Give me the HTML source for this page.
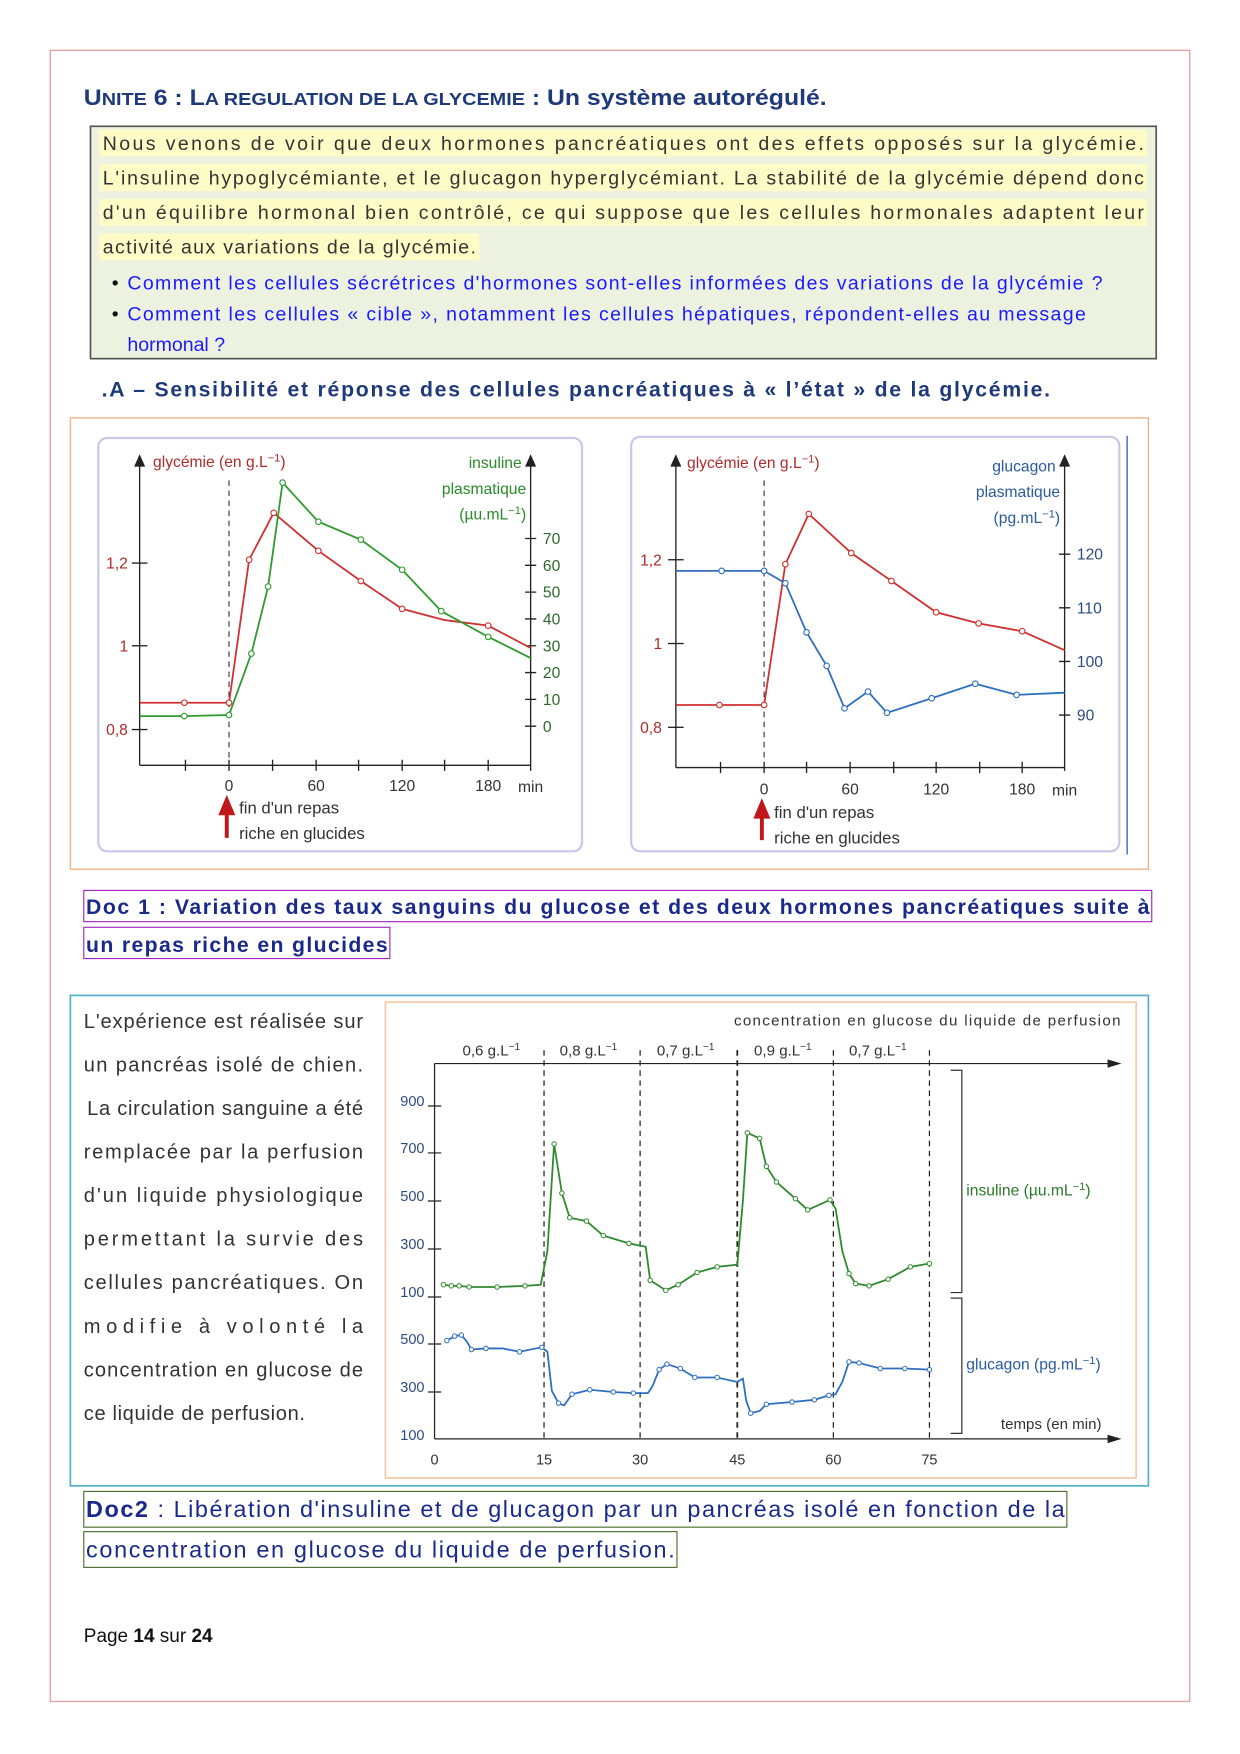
<!DOCTYPE html>
<html><head><meta charset="utf-8"><style>
html,body{margin:0;padding:0;background:#fff;}
svg{display:block;}
text{font-family:"Liberation Sans",sans-serif;}
</style></head><body>
<svg width="1240" height="1754" viewBox="0 0 1110 1570" xmlns="http://www.w3.org/2000/svg">
<rect x="45" y="45" width="1020" height="1478" fill="none" stroke="#e8a0a0" stroke-width="1.2"/>
<text x="75" y="94" font-weight="bold" fill="#1f3a7a" textLength="665" lengthAdjust="spacingAndGlyphs"><tspan font-size="20">U</tspan><tspan font-size="16">NITE</tspan><tspan font-size="20"> 6 : L</tspan><tspan font-size="16">A REGULATION DE LA GLYCEMIE</tspan><tspan font-size="20"> : Un système autorégulé.</tspan></text>
<rect x="81" y="113" width="954" height="208" fill="#edf2e0" stroke="#555" stroke-width="1.5"/>
<rect x="89" y="116" width="938" height="24" fill="#fefcc6"/>
<rect x="89" y="147" width="938" height="24" fill="#fefcc6"/>
<rect x="89" y="178" width="938" height="24" fill="#fefcc6"/>
<rect x="89" y="209" width="340" height="24" fill="#fefcc6"/>
<g font-size="17.5" fill="#333">
<text x="92" y="134" textLength="932" lengthAdjust="spacing">Nous venons de voir que deux hormones pancréatiques ont des effets opposés sur la glycémie.</text>
<text x="92" y="165" textLength="932" lengthAdjust="spacing">L'insuline hypoglycémiante, et le glucagon hyperglycémiant. La stabilité de la glycémie dépend donc</text>
<text x="92" y="196" textLength="932" lengthAdjust="spacing">d'un équilibre hormonal bien contrôlé, ce qui suppose que les cellules hormonales adaptent leur</text>
<text x="92" y="227" textLength="334" lengthAdjust="spacing">activité aux variations de la glycémie.</text>
</g>
<g font-size="17.5" fill="#1a1aff">
<text x="100" y="259" fill="#111">•</text><text x="114" y="259" textLength="873" lengthAdjust="spacing">Comment les cellules sécrétrices d'hormones sont-elles informées des variations de la glycémie ?</text>
<text x="100" y="287" fill="#111">•</text><text x="114" y="287" textLength="858" lengthAdjust="spacing">Comment les cellules « cible », notamment les cellules hépatiques, répondent-elles au message</text>
<text x="114" y="314">hormonal ?</text>
</g>
<text x="91" y="355" font-size="19" font-weight="bold" fill="#1f3a7a" textLength="849" lengthAdjust="spacing">.A – Sensibilité et réponse des cellules pancréatiques à « l’état » de la glycémie.</text>

<rect x="63" y="374" width="965" height="404" fill="none" stroke="#f0b080" stroke-width="1.2"/>
<rect x="88" y="392" width="433" height="370" rx="8" fill="#fff" stroke="#c8c8e8" stroke-width="2"/>
<rect x="565" y="391" width="437" height="371" rx="8" fill="#fff" stroke="#c8c8e8" stroke-width="2"/>
<line x1="1009" y1="390" x2="1009" y2="765" stroke="#5a7fd0" stroke-width="1.5"/>

<g stroke="#222" stroke-width="1.2" fill="none">
<line x1="125" y1="408" x2="125" y2="685"/><line x1="125" y1="685" x2="475" y2="685"/>
<line x1="475" y1="408" x2="475" y2="690"/>
<path d="M121,417 L125,408 L129,417Z M471,417 L475,408 L479,417Z" fill="#222"/>
<line x1="118" y1="504" x2="132" y2="504"/><line x1="118" y1="578" x2="132" y2="578"/><line x1="118" y1="653" x2="132" y2="653"/>
<path d="M166,680v10M205,680v10M244,680v10M283,680v10M321,680v10M360,680v10M398,680v10M437,680v10"/>
<path d="M470,482h10M470,506h10M470,530h10M470,554h10M470,578h10M470,602h10M470,626h10M470,650h10"/>
</g>
<line x1="205" y1="430" x2="205" y2="685" stroke="#333" stroke-dasharray="5,4"/>
<g font-size="14" fill="#b02a2a"><text x="95" y="509">1,2</text><text x="107" y="583">1</text><text x="95" y="658">0,8</text>
<text x="137" y="418">glycémie (en g.L<tspan font-size="10" dy="-5">−1</tspan><tspan dy="5">)</tspan></text></g>
<g font-size="14" fill="#2a8a2a" text-anchor="end"><text x="467" y="419">insuline</text><text x="471" y="442">plasmatique</text><text x="471" y="465">(µu.mL<tspan font-size="10" dy="-5">−1</tspan><tspan dy="5">)</tspan></text></g>
<g font-size="14" fill="#2a6a2a"><text x="486" y="487">70</text><text x="486" y="511">60</text><text x="486" y="535">50</text><text x="486" y="559">40</text><text x="486" y="583">30</text><text x="486" y="607">20</text><text x="486" y="631">10</text><text x="486" y="655">0</text></g>
<g font-size="14" fill="#333" text-anchor="middle"><text x="205" y="708">0</text><text x="283" y="708">60</text><text x="360" y="708">120</text><text x="437" y="708">180</text><text x="475" y="709">min</text></g>
<path d="M203,750 L203,726 M198,728 L203,716 L208,728Z" stroke="#c01818" stroke-width="3.5" fill="#c01818"/>
<g font-size="15" fill="#333"><text x="214" y="728">fin d'un repas</text><text x="214" y="751">riche en glucides</text></g>
<g fill="none" stroke-width="1.6">
<polyline stroke="#d03030" points="125,629 165,629 205,629 223,501 245,459 285,493 323,520 360,545 398,555 437,560 475,580"/>
<polyline stroke="#2f9a2f" points="125,641 165,641 205,640 225,585 240,525 253,432 285,467 323,483 360,510 395,547 437,570 475,589"/>
</g>
<g stroke-width="1" fill="#fff">
<g stroke="#d03030"><circle cx="165" cy="629" r="2.5"/><circle cx="205" cy="629" r="2.5"/><circle cx="223" cy="501" r="2.5"/><circle cx="245" cy="459" r="2.5"/><circle cx="285" cy="493" r="2.5"/><circle cx="323" cy="520" r="2.5"/><circle cx="360" cy="545" r="2.5"/><circle cx="437" cy="560" r="2.5"/></g>
<g stroke="#2f9a2f"><circle cx="165" cy="641" r="2.5"/><circle cx="205" cy="640" r="2.5"/><circle cx="225" cy="585" r="2.5"/><circle cx="240" cy="525" r="2.5"/><circle cx="253" cy="432" r="2.5"/><circle cx="285" cy="467" r="2.5"/><circle cx="323" cy="483" r="2.5"/><circle cx="360" cy="510" r="2.5"/><circle cx="395" cy="547" r="2.5"/><circle cx="437" cy="570" r="2.5"/></g>
</g>

<g stroke="#222" stroke-width="1.2" fill="none">
<line x1="605" y1="408" x2="605" y2="687"/><line x1="605" y1="687" x2="953" y2="687"/>
<line x1="953" y1="408" x2="953" y2="690"/>
<path d="M601,417 L605,408 L609,417Z M949,417 L953,408 L957,417Z" fill="#222"/>
<line x1="598" y1="501" x2="612" y2="501"/><line x1="598" y1="576" x2="612" y2="576"/><line x1="598" y1="651" x2="612" y2="651"/>
<path d="M645,682v10M684,682v10M722,682v10M761,682v10M800,682v10M838,682v10M877,682v10M915,682v10"/>
<path d="M948,496h10M948,544h10M948,592h10M948,640h10"/>
</g>
<line x1="684" y1="430" x2="684" y2="687" stroke="#333" stroke-dasharray="5,4"/>
<g font-size="14" fill="#b02a2a"><text x="573" y="506">1,2</text><text x="585" y="581">1</text><text x="573" y="656">0,8</text>
<text x="615" y="419">glycémie (en g.L<tspan font-size="10" dy="-5">−1</tspan><tspan dy="5">)</tspan></text></g>
<g font-size="14" fill="#2a5aa0" text-anchor="end"><text x="945" y="422">glucagon</text><text x="949" y="445">plasmatique</text><text x="949" y="468">(pg.mL<tspan font-size="10" dy="-5">−1</tspan><tspan dy="5">)</tspan></text></g>
<g font-size="14" fill="#2a4a80"><text x="964" y="501">120</text><text x="964" y="549">110</text><text x="964" y="597">100</text><text x="964" y="645">90</text></g>
<g font-size="14" fill="#333" text-anchor="middle"><text x="684" y="711">0</text><text x="761" y="711">60</text><text x="838" y="711">120</text><text x="915" y="711">180</text><text x="953" y="712">min</text></g>
<path d="M682,752 L682,729 M677,731 L682,719 L687,731Z" stroke="#c01818" stroke-width="3.5" fill="#c01818"/>
<g font-size="15" fill="#333"><text x="693" y="732">fin d'un repas</text><text x="693" y="755">riche en glucides</text></g>
<g fill="none" stroke-width="1.6">
<polyline stroke="#d03030" points="605,631 644,631 684,631 703,505 724,460 762,495 798,520 838,548 876,558 915,565 953,582"/>
<polyline stroke="#2f6fc0" points="605,511 646,511 684,511 703,522 722,566 740,596 756,634 777,619 794,638 834,625 873,612 910,622 953,620"/>
</g>
<g stroke-width="1" fill="#fff">
<g stroke="#d03030"><circle cx="644" cy="631" r="2.5"/><circle cx="684" cy="631" r="2.5"/><circle cx="703" cy="505" r="2.5"/><circle cx="724" cy="460" r="2.5"/><circle cx="762" cy="495" r="2.5"/><circle cx="798" cy="520" r="2.5"/><circle cx="838" cy="548" r="2.5"/><circle cx="876" cy="558" r="2.5"/><circle cx="915" cy="565" r="2.5"/></g>
<g stroke="#2f6fc0"><circle cx="646" cy="511" r="2.5"/><circle cx="684" cy="511" r="2.5"/><circle cx="703" cy="522" r="2.5"/><circle cx="722" cy="566" r="2.5"/><circle cx="740" cy="596" r="2.5"/><circle cx="756" cy="634" r="2.5"/><circle cx="777" cy="619" r="2.5"/><circle cx="794" cy="638" r="2.5"/><circle cx="834" cy="625" r="2.5"/><circle cx="873" cy="612" r="2.5"/><circle cx="910" cy="622" r="2.5"/></g>
</g>

<rect x="75" y="797" width="956" height="28" fill="none" stroke="#a020c0" stroke-width="1"/>
<rect x="75" y="830" width="274" height="28" fill="none" stroke="#a020c0" stroke-width="1"/>
<g font-size="19" font-weight="bold" fill="#1a2a8a">
<text x="77" y="818" textLength="952" lengthAdjust="spacing">Doc 1 : Variation des taux sanguins du glucose et des deux hormones pancréatiques suite à</text>
<text x="77" y="852" textLength="270" lengthAdjust="spacing">un repas riche en glucides</text></g>

<rect x="63" y="891" width="965" height="439" fill="none" stroke="#50b0c8" stroke-width="1.5"/>
<rect x="345" y="897" width="672" height="426" fill="#fff" stroke="#f5c8a0" stroke-width="1.5"/>
<g font-size="18" fill="#333" font-family="Liberation Serif,serif">
<text x="75" y="920" textLength="250" lengthAdjust="spacing">L'expérience est réalisée sur</text>
<text x="75" y="959" textLength="250" lengthAdjust="spacing">un pancréas isolé de chien.</text>
<text x="78" y="998" textLength="247" lengthAdjust="spacing">La circulation sanguine a été</text>
<text x="75" y="1037" textLength="250" lengthAdjust="spacing">remplacée par la perfusion</text>
<text x="75" y="1076" textLength="250" lengthAdjust="spacing">d'un liquide physiologique</text>
<text x="75" y="1115" textLength="250" lengthAdjust="spacing">permettant la survie des</text>
<text x="75" y="1154" textLength="250" lengthAdjust="spacing">cellules pancréatiques. On</text>
<text x="75" y="1193" textLength="250" lengthAdjust="spacing">modifie à volonté la</text>
<text x="75" y="1232" textLength="250" lengthAdjust="spacing">concentration en glucose de</text>
<text x="75" y="1271" textLength="198" lengthAdjust="spacing">ce liquide de perfusion.</text>
</g>
<g stroke="#222" stroke-width="1.1" fill="none">
<line x1="389" y1="952" x2="998" y2="952"/><path d="M992,949 L1002,952 L992,955Z" fill="#222"/>
<line x1="389" y1="952" x2="389" y2="1288"/>
<line x1="389" y1="1288" x2="998" y2="1288"/><path d="M992,1285 L1002,1288 L992,1291Z" fill="#222"/>
<path d="M383,990h12M383,1032h12M383,1075h12M383,1118h12M383,1161h12M383,1203h12M383,1246h12"/>
<path d="M851,958h10v199h-10M851,1162h10v121h-10" stroke="#333"/>
</g>
<g stroke="#222" stroke-dasharray="5,4" stroke-width="1.1"><line x1="487" y1="940" x2="487" y2="1288"/><line x1="573" y1="940" x2="573" y2="1288"/><line x1="660" y1="940" x2="660" y2="1288" stroke-width="1.6"/><line x1="746" y1="940" x2="746" y2="1288"/><line x1="832" y1="940" x2="832" y2="1288"/></g>
<g font-size="13.5" fill="#333">
<text x="657" y="918" textLength="346" lengthAdjust="spacing">concentration en glucose du liquide de perfusion</text>
<text x="414" y="945">0,6 g.L<tspan font-size="9" dy="-5">−1</tspan></text>
<text x="501" y="945">0,8 g.L<tspan font-size="9" dy="-5">−1</tspan></text>
<text x="588" y="945">0,7 g.L<tspan font-size="9" dy="-5">−1</tspan></text>
<text x="675" y="945">0,9 g.L<tspan font-size="9" dy="-5">−1</tspan></text>
<text x="760" y="945">0,7 g.L<tspan font-size="9" dy="-5">−1</tspan></text>
<text x="896" y="1279">temps (en min)</text>
</g>
<g font-size="13" fill="#2a4a80" text-anchor="end"><text x="380" y="990">900</text><text x="380" y="1032">700</text><text x="380" y="1075">500</text><text x="380" y="1118">300</text><text x="380" y="1161">100</text><text x="380" y="1203">500</text><text x="380" y="1246">300</text><text x="380" y="1289">100</text></g>
<g font-size="13" fill="#333" text-anchor="middle"><text x="389" y="1311">0</text><text x="487" y="1311">15</text><text x="573" y="1311">30</text><text x="660" y="1311">45</text><text x="746" y="1311">60</text><text x="832" y="1311">75</text></g>
<text x="865" y="1070" font-size="14" fill="#2a7a2a">insuline (µu.mL<tspan font-size="10" dy="-5">−1</tspan><tspan dy="5">)</tspan></text>
<text x="865" y="1226" font-size="14" fill="#2a5aa0">glucagon (pg.mL<tspan font-size="10" dy="-5">−1</tspan><tspan dy="5">)</tspan></text>
<polyline fill="none" stroke="#2f8a2f" stroke-width="1.6" points="397,1150 404,1151 411,1151 420,1152 445,1152 470,1151 484,1150 490,1120 496,1024 503,1068 510,1090 525,1093 540,1106 563,1113 573,1115 578,1116 582,1146 596,1155 607,1150 624,1139 642,1134 660,1132 665,1075 669,1014 680,1019 686,1044 695,1058 712,1073 723,1083 743,1074 748,1082 754,1120 760,1140 766,1149 778,1151 795,1145 815,1134 832,1131"/>
<polyline fill="none" stroke="#2f6fc0" stroke-width="1.6" points="400,1200 407,1196 413,1195 418,1201 422,1208 435,1207 450,1207 465,1210 485,1206 490,1210 494,1245 500,1256 505,1258 512,1248 528,1244 549,1246 567,1247 573,1247 580,1247 584,1241 590,1226 597,1221 609,1225 622,1233 642,1233 660,1237 665,1234 668,1254 672,1265 680,1263 686,1257 709,1255 729,1253 742,1249 748,1248 754,1237 760,1219 769,1220 788,1225 810,1225 832,1226"/>
<g fill="#fff" stroke-width="0.9">
<g stroke="#2f8a2f"><circle cx="397" cy="1150" r="2"/><circle cx="404" cy="1151" r="2"/><circle cx="411" cy="1151" r="2"/><circle cx="420" cy="1152" r="2"/><circle cx="445" cy="1152" r="2"/><circle cx="470" cy="1151" r="2"/><circle cx="496" cy="1024" r="2"/><circle cx="503" cy="1068" r="2"/><circle cx="510" cy="1090" r="2"/><circle cx="525" cy="1093" r="2"/><circle cx="540" cy="1106" r="2"/><circle cx="563" cy="1113" r="2"/><circle cx="582" cy="1146" r="2"/><circle cx="596" cy="1155" r="2"/><circle cx="607" cy="1150" r="2"/><circle cx="624" cy="1139" r="2"/><circle cx="642" cy="1134" r="2"/><circle cx="669" cy="1014" r="2"/><circle cx="680" cy="1019" r="2"/><circle cx="686" cy="1044" r="2"/><circle cx="695" cy="1058" r="2"/><circle cx="712" cy="1073" r="2"/><circle cx="723" cy="1083" r="2"/><circle cx="743" cy="1074" r="2"/><circle cx="760" cy="1140" r="2"/><circle cx="766" cy="1149" r="2"/><circle cx="778" cy="1151" r="2"/><circle cx="795" cy="1145" r="2"/><circle cx="815" cy="1134" r="2"/><circle cx="832" cy="1131" r="2"/></g>
<g stroke="#2f6fc0"><circle cx="400" cy="1200" r="2"/><circle cx="407" cy="1196" r="2"/><circle cx="413" cy="1195" r="2"/><circle cx="422" cy="1208" r="2"/><circle cx="435" cy="1207" r="2"/><circle cx="465" cy="1210" r="2"/><circle cx="485" cy="1206" r="2"/><circle cx="500" cy="1256" r="2"/><circle cx="512" cy="1248" r="2"/><circle cx="528" cy="1244" r="2"/><circle cx="549" cy="1246" r="2"/><circle cx="567" cy="1247" r="2"/><circle cx="590" cy="1226" r="2"/><circle cx="597" cy="1221" r="2"/><circle cx="609" cy="1225" r="2"/><circle cx="622" cy="1233" r="2"/><circle cx="642" cy="1233" r="2"/><circle cx="672" cy="1265" r="2"/><circle cx="686" cy="1257" r="2"/><circle cx="709" cy="1255" r="2"/><circle cx="729" cy="1253" r="2"/><circle cx="742" cy="1249" r="2"/><circle cx="760" cy="1219" r="2"/><circle cx="769" cy="1220" r="2"/><circle cx="788" cy="1225" r="2"/><circle cx="810" cy="1225" r="2"/><circle cx="832" cy="1226" r="2"/></g>
</g>

<rect x="75" y="1335" width="880" height="32" fill="none" stroke="#4a6a2a" stroke-width="1"/>
<rect x="75" y="1371" width="531" height="32" fill="none" stroke="#4a6a2a" stroke-width="1"/>
<g font-size="21" fill="#1a2a8a">
<text x="77" y="1358" textLength="876" lengthAdjust="spacing"><tspan font-weight="bold">Doc2</tspan> : Libération d'insuline et de glucagon par un pancréas isolé en fonction de la</text>
<text x="77" y="1394" textLength="527" lengthAdjust="spacing">concentration en glucose du liquide de perfusion.</text>
</g>
<text x="75" y="1470" font-size="17" fill="#111">Page <tspan font-weight="bold">14</tspan> sur <tspan font-weight="bold">24</tspan></text>
</svg>
</body></html>
